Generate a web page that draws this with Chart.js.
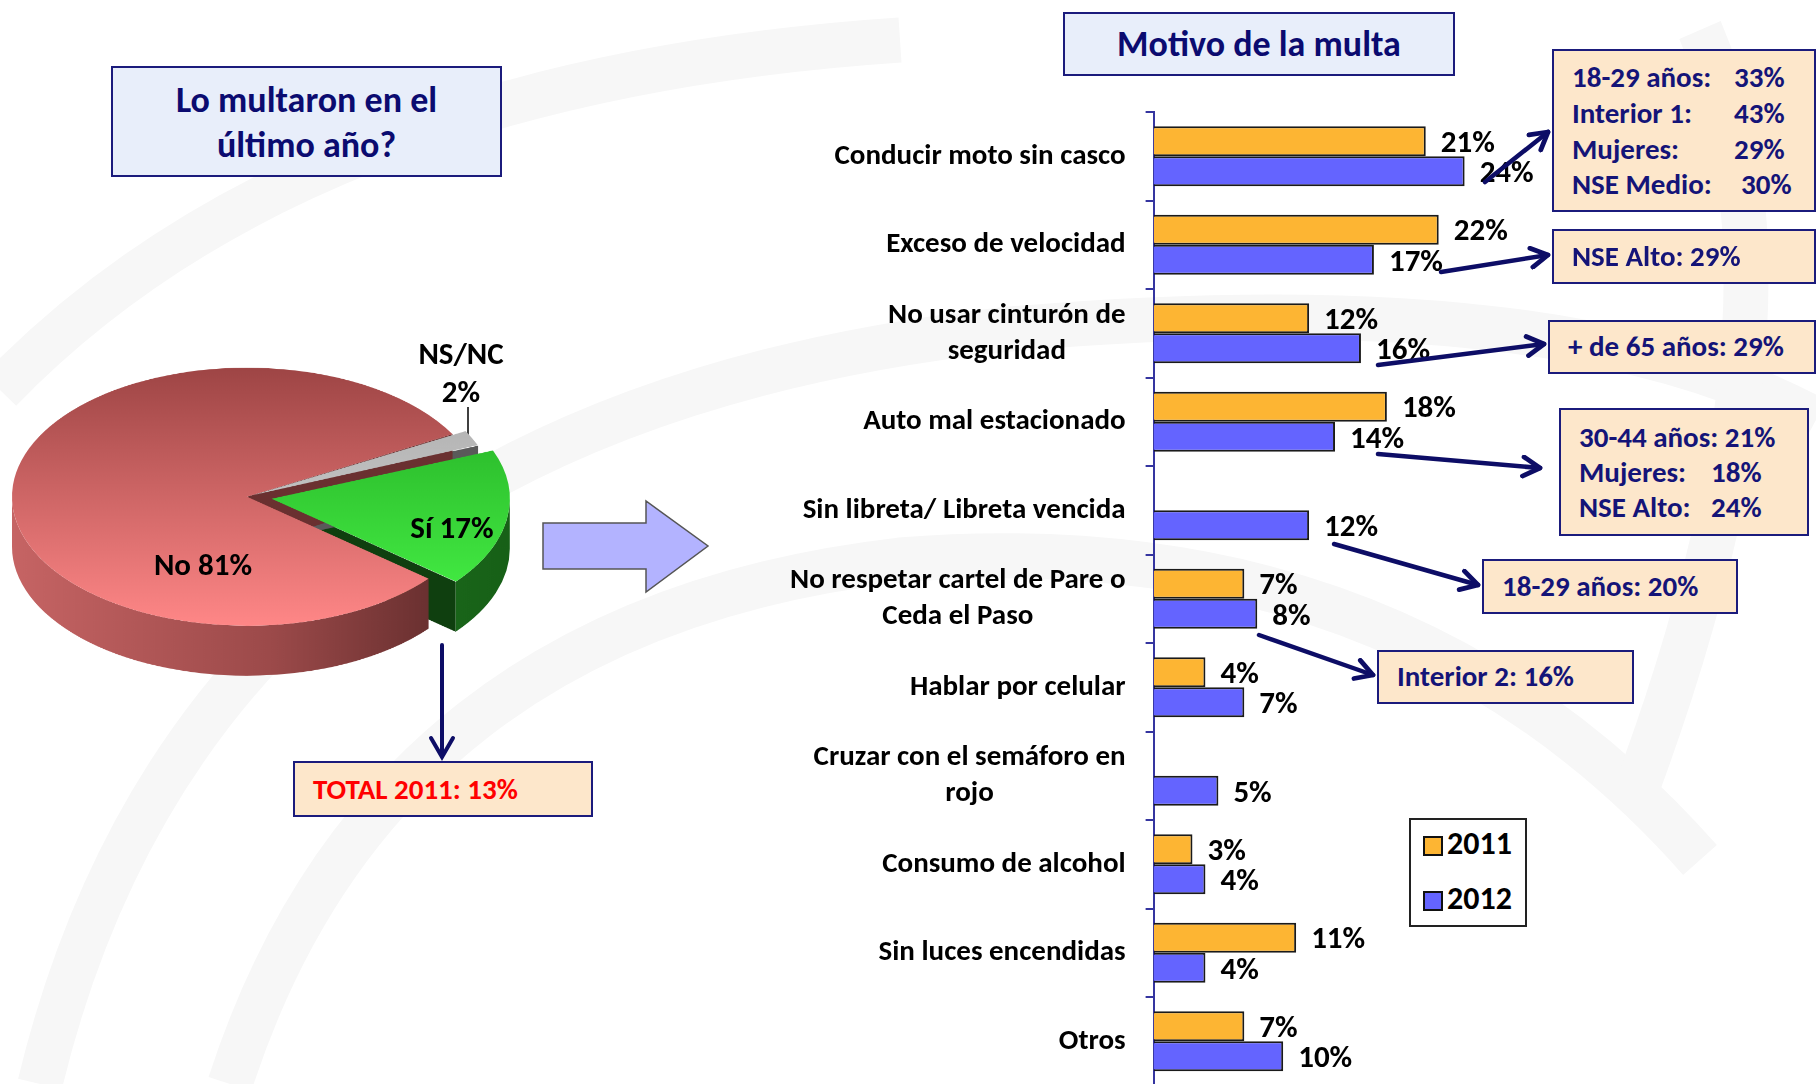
<!DOCTYPE html>
<html>
<head>
<meta charset="utf-8">
<script src="https://cdn.jsdelivr.net/npm/chart.js@4"></script>
<style>
  body { margin:0; width:1816px; height:1084px; overflow:hidden; background:#fff; position:relative;
         font-family: Carlito, Lato, "Open Sans", sans-serif; font-weight:bold; }
  .abs { position:absolute; }
  .box { position:absolute; box-sizing:border-box; border:2px solid #1b1b7c; }
  .title { background:#E8EEFA; color:#0B0B70; text-align:center; }
  .note { background:#FDE7CB; color:#141478; font-size:29px; }
  .note div { position:absolute; white-space:nowrap; line-height:30px; }
  .plab { position:absolute; font-size:31px; color:#000; white-space:nowrap; transform:translate(-50%,-50%); }
</style>
</head>
<body>
<svg class="abs" style="left:0;top:0" width="1816" height="1084">
  <g fill="none" stroke="#F7F7F7" stroke-width="45">
    <path d="M 40 1084 Q 200 420 1000 330 Q 1560 280 1816 420"/>
    <path d="M 230 1084 Q 380 620 900 560 Q 1400 520 1700 860"/>
    <path d="M 0 390 Q 300 80 900 40"/>
    <path d="M 1700 30 Q 1816 300 1640 780"/>
  </g>
  <!-- big arrow between charts -->
  <polygon points="543,523 646,523 646,501 708,546 646,592 646,569 543,569" fill="#B3B3FF" stroke="#555" stroke-width="1.5"/>
  <!-- arrow under pie -->
  <g stroke="#0D0D66" stroke-width="4" fill="none" stroke-linecap="round">
    <line x1="442" y1="645" x2="442" y2="756"/>
    <polyline points="431,738 442,757 453,738"/>
  </g>
  <!-- leader line NS/NC -->
  <line x1="468" y1="407" x2="468" y2="442" stroke="#000" stroke-width="1.5"/>
</svg>

<div class="box title" style="left:111px;top:66px;width:391px;height:111px;font-size:36px;line-height:45px;padding-top:10px">Lo multaron en el<br>último año?</div>
<div class="box title" style="left:1063px;top:12px;width:392px;height:64px;font-size:36px;line-height:60px">Motivo de la multa</div>

<div class="box note" style="left:293px;top:761px;width:300px;height:56px;color:#FF0000;font-size:29px">
  <div style="left:18px;top:11px">TOTAL 2011: 13%</div>
</div>

<div id="pieWrap" class="abs" style="left:-53px;top:332px;width:600px;height:700px;transform:scaleY(0.549);transform-origin:0 0">
  <canvas id="pie" width="600" height="700"></canvas>
</div>
<div class="plab" style="left:203px;top:564px">No 81%</div>
<div class="plab" style="left:452px;top:527px">Sí 17%</div>
<div class="plab" style="left:461px;top:353px">NS/NC</div>
<div class="plab" style="left:461px;top:391px">2%</div>

<canvas id="bars" class="abs" style="left:760px;top:100px" width="912" height="1000"></canvas>

<div class="box" style="left:1409px;top:818px;width:118px;height:109px;background:#fff;border-color:#222;font-size:32px;color:#000">
  <div class="abs" id="sw0" style="left:12px;top:16px;width:16px;height:16px;border:2px solid #111"></div>
  <div class="abs" style="left:36px;top:4px">2011</div>
  <div class="abs" id="sw1" style="left:12px;top:71px;width:16px;height:16px;border:2px solid #111"></div>
  <div class="abs" style="left:36px;top:59px">2012</div>
</div>

<div class="box note" style="left:1552px;top:49px;width:264px;height:163px">
  <div style="left:18px;top:11px">18-29 años:</div><div style="left:180px;top:11px">33%</div>
  <div style="left:18px;top:47px">Interior 1:</div><div style="left:180px;top:47px">43%</div>
  <div style="left:18px;top:83px">Mujeres:</div><div style="left:180px;top:83px">29%</div>
  <div style="left:18px;top:118px">NSE Medio:</div><div style="left:187px;top:118px">30%</div>
</div>
<div class="box note" style="left:1552px;top:229px;width:264px;height:55px">
  <div style="left:18px;top:10px">NSE Alto: 29%</div>
</div>
<div class="box note" style="left:1548px;top:320px;width:268px;height:54px">
  <div style="left:18px;top:9px">+ de 65 años: 29%</div>
</div>
<div class="box note" style="left:1559px;top:408px;width:250px;height:128px">
  <div style="left:18px;top:12px">30-44 años: 21%</div>
  <div style="left:18px;top:47px">Mujeres:</div><div style="left:150px;top:47px">18%</div>
  <div style="left:18px;top:82px">NSE Alto:</div><div style="left:150px;top:82px">24%</div>
</div>
<div class="box note" style="left:1482px;top:559px;width:256px;height:55px">
  <div style="left:18px;top:10px">18-29 años: 20%</div>
</div>
<div class="box note" style="left:1377px;top:650px;width:257px;height:54px">
  <div style="left:18px;top:9px">Interior 2: 16%</div>
</div>

<svg class="abs" style="left:0;top:0;pointer-events:none" width="1816" height="1084">
  <defs>
    <marker id="ah" markerUnits="userSpaceOnUse" markerWidth="24" markerHeight="24" viewBox="0 0 20 20" refX="17" refY="10" orient="auto">
      <path d="M3,2 L17,10 L3,18" fill="none" stroke="#0D0D66" stroke-width="4" stroke-linecap="round" stroke-linejoin="round"/>
    </marker>
  </defs>
  <g stroke="#0D0D66" stroke-width="4.5" stroke-linecap="round" marker-end="url(#ah)">
    <line x1="1485" y1="182" x2="1548" y2="132"/>
    <line x1="1441" y1="272" x2="1548" y2="255"/>
    <line x1="1378" y1="365" x2="1544" y2="344"/>
    <line x1="1378" y1="454" x2="1540" y2="468"/>
    <line x1="1334" y1="544" x2="1478" y2="585"/>
    <line x1="1259" y1="635" x2="1373" y2="675"/>
  </g>
</svg>

<script>
const FONT = 'Carlito, Lato, "Open Sans", sans-serif';

// pie: lo multaron en el último año
const pieLabels = ['NS/NC', 'Sí', 'No'];
const pieValues = [2, 17, 81];
const pieTop = [['#A9A9A9', '#DADADA'], ['#22A822', '#48F548'], ['#9E4545', '#FF8787']];
const pieSide = ['#5A5A5A', '#145A14', '#6A3030'];
const pieOffset = [30, 100, 0];

// bars: motivo de la multa
const categories = [
  ['Conducir moto sin casco'],
  ['Exceso de velocidad'],
  ['No usar cinturón de', 'seguridad'],
  ['Auto mal estacionado'],
  ['Sin libreta/ Libreta vencida'],
  ['No respetar cartel de Pare o', 'Ceda el Paso'],
  ['Hablar por celular'],
  ['Cruzar con el semáforo en', 'rojo'],
  ['Consumo de alcohol'],
  ['Sin luces encendidas'],
  ['Otros']
];
const values2011 = [21, 22, 12, 18, null, 7, 4, null, 3, 11, 7];
const values2012 = [24, 17, 16, 14, 12, 8, 7, 5, 4, 4, 10];
const color2011 = '#FDB533';
const color2012 = '#6464FF';

document.getElementById('sw0').style.background = color2011;
document.getElementById('sw1').style.background = color2012;

const R = 235, DEPTH = 91;

// draws the side walls of the pie (3D look) under the top faces
const pieWalls = {
  id: 'pieWalls',
  beforeDatasetsDraw(chart) {
    const ctx = chart.ctx;
    const arcs = chart.getDatasetMeta(0).data;
    [1, 0, 2].forEach(i => {
      const a = arcs[i];
      const s = a.startAngle, e = a.endAngle;
      const o = (pieOffset[i] || 0) / 4;
      const mid = (s + e) / 2;
      const cx = a.x + Math.cos(mid) * o, cy = a.y + Math.sin(mid) * o;
      const r = a.outerRadius + o * (1 - Math.sin(Math.min(Math.PI, e - s)));
      ctx.save();
      // visible radial face at end angle
      if (Math.cos(e) > 0) {
        ctx.fillStyle = i === 1 ? '#0F3F0F' : pieSide[i];
        ctx.beginPath();
        ctx.moveTo(cx, cy);
        ctx.lineTo(cx + r * Math.cos(e), cy + r * Math.sin(e));
        ctx.lineTo(cx + r * Math.cos(e), cy + r * Math.sin(e) + DEPTH);
        ctx.lineTo(cx, cy + DEPTH);
        ctx.closePath();
        ctx.fill();
      }
      // outer wall, front half only
      const segs = [];
      const norm = x => ((x % (2 * Math.PI)) + 2 * Math.PI) % (2 * Math.PI);
      let ss = norm(s), ee = ss + (e - s);
      [[0, Math.PI], [2 * Math.PI, 3 * Math.PI]].forEach(([lo, hi]) => {
        const a1 = Math.max(ss, lo), a2 = Math.min(ee, hi);
        if (a2 > a1) segs.push([a1, a2]);
      });
      const g = ctx.createLinearGradient(cx - r, 0, cx + r, 0);
      if (i === 2) { g.addColorStop(0, '#C66464'); g.addColorStop(0.55, '#9C4A4A'); g.addColorStop(1, '#5A2828'); }
      else if (i === 1) { g.addColorStop(0, '#2A8A2A'); g.addColorStop(1, '#176017'); }
      else { g.addColorStop(0, '#777'); g.addColorStop(1, '#555'); }
      ctx.fillStyle = g;
      segs.forEach(([a1, a2]) => {
        ctx.beginPath();
        ctx.arc(cx, cy, r, a1, a2);
        ctx.lineTo(cx + r * Math.cos(a2), cy + r * Math.sin(a2) + DEPTH);
        ctx.arc(cx, cy + DEPTH, r, a2, a1, true);
        ctx.closePath();
        ctx.fill();
      });
      ctx.restore();
    });
  }
};

new Chart(document.getElementById('pie'), {
  type: 'pie',
  data: {
    labels: pieLabels,
    datasets: [{
      data: pieValues,
      offset: pieOffset,
      borderWidth: 0,
      backgroundColor: (c) => {
        const area = c.chart.chartArea;
        const cols = pieTop[c.dataIndex];
        if (!area) return cols[1];
        const cy = (area.top + area.bottom) / 2;
        const g = c.chart.ctx.createLinearGradient(0, cy - R, 0, cy + R);
        g.addColorStop(0, cols[0]);
        g.addColorStop(1, cols[1]);
        return g;
      }
    }]
  },
  options: {
    responsive: false,
    animation: false,
    rotation: 61,
    radius: R,
    layout: { padding: { bottom: 100 } },
    plugins: { legend: { display: false }, tooltip: { enabled: false } }
  },
  plugins: [pieWalls]
});

const catLabels = {
  id: 'catLabels',
  afterDraw(chart) {
    const { ctx, chartArea } = chart;
    const y = chart.scales.y;
    ctx.save();
    ctx.font = 'bold 29px ' + FONT;
    ctx.fillStyle = '#000';
    ctx.textAlign = 'center';
    ctx.textBaseline = 'middle';
    categories.forEach((lines, i) => {
      const yc = y.getPixelForTick(i);
      const w = Math.max(...lines.map(l => ctx.measureText(l).width));
      const xc = chartArea.left - 28 - w / 2;
      lines.forEach((l, j) => ctx.fillText(l, xc, yc + (j - (lines.length - 1) / 2) * 36));
    });
    ctx.restore();
  }
};

const valueLabels = {
  id: 'valueLabels',
  afterDatasetsDraw(chart) {
    const ctx = chart.ctx;
    ctx.save();
    ctx.font = 'bold 31px ' + FONT;
    ctx.fillStyle = '#000';
    ctx.textAlign = 'left';
    ctx.textBaseline = 'middle';
    chart.data.datasets.forEach((ds, di) => {
      chart.getDatasetMeta(di).data.forEach((bar, i) => {
        const v = ds.data[i];
        if (v == null) return;
        ctx.fillText(v + '%', bar.x + 15, bar.y + 3);
      });
    });
    ctx.restore();
  }
};

new Chart(document.getElementById('bars'), {
  type: 'bar',
  data: {
    labels: categories,
    datasets: [
      { label: '2011', data: values2011, backgroundColor: color2011, borderColor: '#1a1a1a', borderWidth: 2 },
      { label: '2012', data: values2012, backgroundColor: color2012, borderColor: '#1a1a1a', borderWidth: 2 }
    ]
  },
  options: {
    indexAxis: 'y',
    responsive: false,
    animation: false,
    layout: { padding: { top: 12, bottom: 14.5, left: 0, right: 0 } },
    datasets: { bar: { categoryPercentage: 0.68, barPercentage: 1.0 } },
    scales: {
      x: { display: false, min: 0, max: 40 },
      y: {
        afterFit(scale) { scale.width = 393.6; },
        ticks: { color: 'rgba(0,0,0,0)' },
        grid: { drawOnChartArea: false, drawTicks: true, tickLength: 8, color: '#3535A0', lineWidth: 2, offset: true },
        border: { color: '#3535A0', width: 2 }
      }
    },
    plugins: { legend: { display: false }, tooltip: { enabled: false } }
  },
  plugins: [catLabels, valueLabels]
});
</script>
</body>
</html>
